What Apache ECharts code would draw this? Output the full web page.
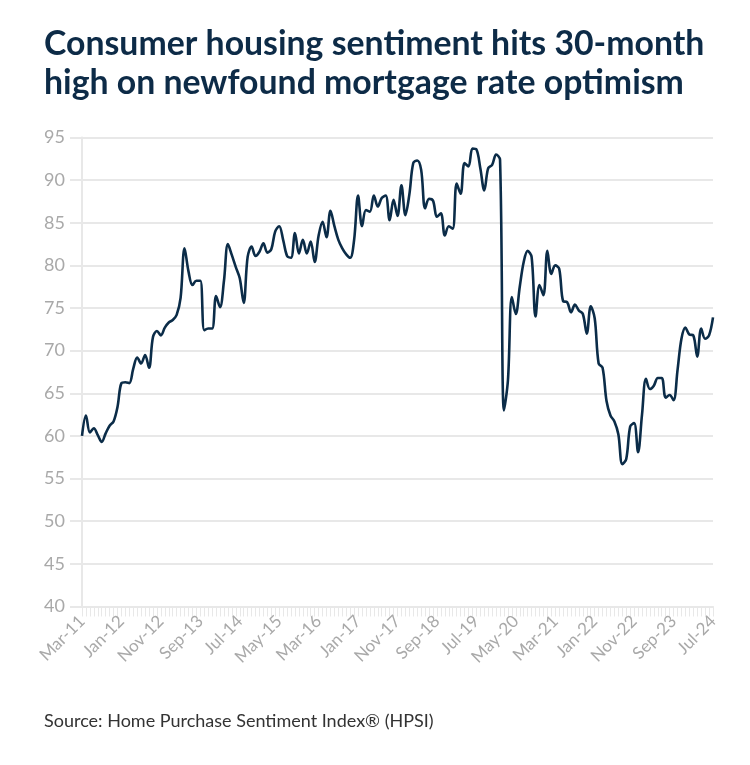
<!DOCTYPE html>
<html>
<head>
<meta charset="utf-8">
<script src="https://cdn.jsdelivr.net/npm/echarts@6/dist/echarts.min.js"></script>
<style>
html,body{margin:0;padding:0;background:#fff;}
#chart{width:750px;height:765px;}
</style>
</head>
<body>
<div id="chart"></div>
<script>
// ---- Data ----
const titleText = 'Consumer housing sentiment hits 30-month\nhigh on newfound mortgage rate optimism';
const sourceText = 'Source: Home Purchase Sentiment Index\u00AE (HPSI)';
const monthNames = ['Jan','Feb','Mar','Apr','May','Jun','Jul','Aug','Sep','Oct','Nov','Dec'];
const startYear = 2011, startMonth = 2; // Mar-11
const monthCount = 161;                 // Mar-11 .. Jul-24
const categories = [];
for (let k = 0; k < monthCount; k++) {
  const m = (startMonth + k) % 12;
  const y = startYear + Math.floor((startMonth + k) / 12);
  categories.push(monthNames[m] + '-' + String(y % 100).padStart(2, '0'));
}
const hpsi = [
  60.0, 62.4, 60.4, 60.9, 60.1, 59.3, 60.3, 61.2, 61.7, 63.4,
  66.2, 66.3, 66.2, 67.9, 69.2, 68.5, 69.5, 68.0, 71.6, 72.3,
  71.8, 72.7, 73.3, 73.6, 74.2, 76.2, 82.0, 79.3, 77.7, 78.2,
  78.2, 72.4, 72.6, 72.6, 76.4, 75.1, 78.2, 82.5, 81.2, 79.8,
  78.5, 75.6, 81.0, 82.2, 81.1, 81.6, 82.6, 81.5, 81.9, 84.0,
  84.6, 83.0, 81.1, 80.9, 83.8, 81.4, 83.0, 81.4, 82.8, 80.4,
  83.5, 85.1, 83.3, 86.4, 84.6, 83.0, 82.0, 81.3, 80.9, 83.0,
  88.2, 84.6, 86.5, 86.3, 88.2, 86.9, 87.9, 88.2, 85.3, 87.7,
  85.8, 89.4, 85.9, 88.3, 92.0, 92.3, 91.2, 86.7, 87.8, 87.6,
  85.7, 86.1, 83.5, 84.6, 84.3, 89.6, 88.4, 92.0, 91.6, 93.7,
  93.6, 91.4, 88.8, 91.4, 91.8, 93.0, 92.4, 63.0, 66.5, 76.3,
  74.3, 77.5, 80.4, 81.7, 81.0, 74.0, 77.7, 76.5, 81.7, 79.0,
  80.0, 79.6, 75.8, 75.7, 74.5, 75.4, 74.7, 74.3, 72.0, 75.2,
  73.8, 68.5, 68.0, 64.1, 62.4, 61.7, 60.2, 56.7, 57.3, 61.1,
  61.5, 58.1, 62.5, 66.7, 65.5, 65.9, 66.8, 66.8, 64.5, 64.8,
  64.2, 67.7, 71.4, 72.7, 71.9, 71.8, 69.3, 72.6, 71.4, 71.8,
  73.9
];
const yMin = 40, yMax = 95, yStep = 5;

// ---- Chart ----
const chart = echarts.init(document.getElementById('chart'), null, {renderer: 'canvas'});
const gridColor = '#e8e8e8';
const labelColor = '#a9a9a9';
chart.setOption({
  animation: false,
  backgroundColor: '#ffffff',
  title: [{
    text: titleText,
    left: 39, top: 20,
    textStyle: {
      fontFamily: 'Lato', fontWeight: 'bold', fontSize: 33.8,
      color: '#0d2b47', lineHeight: 39
    }
  }, {
    text: sourceText,
    left: 39, top: 707,
    textStyle: {fontFamily: 'Lato', fontWeight: 'normal', fontSize: 18, color: '#333333'}
  }],
  grid: {left: 82, right: 37, top: 137.5, bottom: 158.5, containLabel: false},
  xAxis: {
    type: 'category',
    data: categories,
    boundaryGap: false,
    axisLine: {show: true, lineStyle: {color: gridColor, width: 2}},
    axisTick: {show: true, interval: 0, length: 10, lineStyle: {color: gridColor, width: 1}},
    axisLabel: {
      interval: 9, rotate: 45, margin: 12,
      color: labelColor, fontFamily: 'Lato', fontSize: 17
    },
    splitLine: {show: false}
  },
  yAxis: {
    type: 'value',
    min: yMin, max: yMax, interval: yStep,
    axisLine: {show: true, lineStyle: {color: gridColor, width: 2}},
    axisTick: {show: true, length: 12, lineStyle: {color: gridColor, width: 2}},
    axisLabel: {margin: 17, color: labelColor, fontFamily: 'Lato', fontSize: 18},
    splitLine: {show: true, lineStyle: {color: gridColor, width: 2}}
  },
  series: [{
    type: 'line',
    data: hpsi,
    smooth: 0.35,
    symbol: 'none',
    lineStyle: {color: '#0b2c48', width: 2.6},
    z: 5
  }]
});
</script>
</body>
</html>
